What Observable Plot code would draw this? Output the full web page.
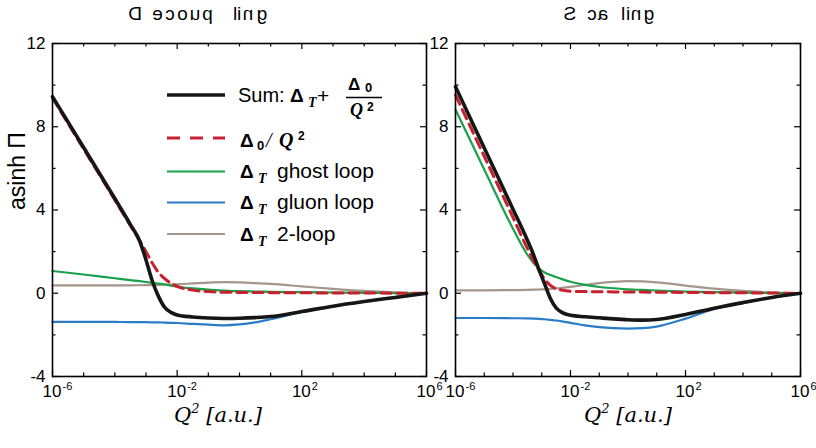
<!DOCTYPE html>
<html><head><meta charset="utf-8">
<script src="https://cdn.jsdelivr.net/npm/d3@7"></script>
<script src="https://cdn.jsdelivr.net/npm/@observablehq/plot@0.6"></script>
<style>
body{margin:0;background:#fff;}
#wrap{position:relative;width:816px;height:448px;overflow:hidden;font-family:"Liberation Sans",Arial,sans-serif;}
.panel{position:absolute;top:0;}
.xlabel{position:absolute;top:403px;font-family:"DejaVu Serif",serif;font-style:italic;font-size:21px;transform:translateX(-50%);white-space:nowrap;}
.xlabel sup{font-size:13px;vertical-align:9px;line-height:0;}
</style></head><body><div id="wrap"></div>
<script>
// ---------- data (x = log10 Q^2) ----------
const gridD = [-6,-5,-4,-3.5,-3.2,-3,-2.8,-2.6,-2.4,-2.2,-2,-1.5,-1,-0.5,0,0.5,1,2,3,4,5,6];
const sumD   = [9.45,7.0,4.55,3.3,2.5,1.6,0.6,-0.15,-0.68,-0.92,-1.04,-1.14,-1.19,-1.21,-1.2,-1.17,-1.12,-0.88,-0.62,-0.4,-0.2,0];
const redD   = [9.38,6.93,4.48,3.25,2.52,2.0,1.45,1.0,0.7,0.48,0.33,0.15,0.08,0.05,0.04,0.035,0.03,0.02,0.015,0.01,0.005,0];
const ghostD = [1.07,0.9,0.72,0.63,0.58,0.54,0.5,0.46,0.42,0.37,0.32,0.23,0.17,0.13,0.1,0.085,0.07,0.05,0.035,0.02,0.01,0];
const gluonD = [-1.38,-1.38,-1.38,-1.385,-1.39,-1.39,-1.4,-1.4,-1.41,-1.42,-1.43,-1.47,-1.51,-1.54,-1.5,-1.4,-1.25,-0.9,-0.63,-0.4,-0.19,0];
const twoD   = [0.38,0.38,0.38,0.38,0.385,0.39,0.395,0.4,0.41,0.42,0.43,0.47,0.51,0.53,0.52,0.49,0.45,0.33,0.21,0.11,0.04,0];

const gridS = [-6,-5,-4,-3.5,-3.3,-3.1,-2.9,-2.7,-2.5,-2.3,-2,-1.5,-1,-0.5,0,0.5,1,2,3,4,5,6];
const sumS   = [9.92,6.98,4.04,2.55,1.9,1.15,0.45,-0.25,-0.7,-0.92,-1.06,-1.13,-1.18,-1.23,-1.27,-1.29,-1.26,-1.02,-0.72,-0.45,-0.2,0];
const redS   = [9.52,6.58,3.64,2.15,1.6,1.12,0.68,0.38,0.22,0.15,0.1,0.08,0.07,0.065,0.06,0.055,0.05,0.04,0.03,0.02,0.01,0];
const ghostS = [8.83,5.95,3.1,1.85,1.48,1.2,1.0,0.88,0.78,0.68,0.55,0.4,0.3,0.24,0.19,0.16,0.13,0.08,0.05,0.03,0.01,0];
const gluonS = [-1.19,-1.19,-1.2,-1.21,-1.22,-1.23,-1.25,-1.28,-1.31,-1.35,-1.42,-1.54,-1.63,-1.68,-1.7,-1.68,-1.6,-1.22,-0.75,-0.46,-0.2,0];
const twoS   = [0.14,0.14,0.15,0.16,0.17,0.18,0.19,0.21,0.23,0.26,0.31,0.4,0.49,0.55,0.58,0.57,0.52,0.37,0.22,0.11,0.04,0];

const xTickExp  = [-6,-5,-4,-3,-2,-1,0,1,2,3,4,5,6];
const xLabelExp = [-6,-2,2,6];
const yTicks    = [-4,-2,0,2,4,6,8,10,12];
const yLabels   = [-4,0,4,8,12];
const titles    = ["Decoupling","Scaling"];
const yTitle    = "asinh \u03A0";
const xTitle    = "Q";

const styles = {
  two:   {color:"#a4968a", w:2.2},
  gluon: {color:"#2b7cc6", w:2.2},
  ghost: {color:"#18a04a", w:2.2},
  red:   {color:"#c8202e", w:3, dash:"10,6"},
  sum:   {color:"#161616", w:3.6}
};

const H = 448, MT = 43, MB = 72;
const wrap = document.getElementById("wrap");

function makePanel(grid, vals, left, width, mL, mR, withYLabel) {
  const fw = width - mL - mR, fh = H - MT - MB;
  const toRows = v => grid.map((e, i) => ({q2: 10 ** e, v: v[i]}));
  const lineMark = k => Plot.line(toRows(vals[k]), {x:"q2", y:"v", stroke: styles[k].color,
      strokeWidth: styles[k].w, strokeDasharray: styles[k].dash, curve:"monotone-x"});
  const maj = new Set(xLabelExp), ymaj = new Set(yLabels);
  const xMaj = xTickExp.filter(e => maj.has(e)).map(e => 10 ** e);
  const xMin = xTickExp.filter(e => !maj.has(e)).map(e => 10 ** e);
  const yMaj = yTicks.filter(v => ymaj.has(v));
  const yMin = yTicks.filter(v => !ymaj.has(v));
  const tk = {stroke:"black", strokeWidth:1.2};
  const marks = [
    Plot.tickX(xMaj, {x: d=>d, insetTop: fh-6, ...tk}),
    Plot.tickX(xMaj, {x: d=>d, insetBottom: fh-6, ...tk}),
    Plot.tickX(xMin, {x: d=>d, insetTop: fh-3.5, ...tk}),
    Plot.tickX(xMin, {x: d=>d, insetBottom: fh-3.5, ...tk}),
    Plot.tickY(yMaj, {y: d=>d, insetRight: fw-6, ...tk}),
    Plot.tickY(yMaj, {y: d=>d, insetLeft: fw-6, ...tk}),
    Plot.tickY(yMin, {y: d=>d, insetRight: fw-3.5, ...tk}),
    Plot.tickY(yMin, {y: d=>d, insetLeft: fw-3.5, ...tk}),
    lineMark("two"), lineMark("gluon"), lineMark("ghost"), lineMark("red"), lineMark("sum"),
    Plot.frame({stroke:"black", strokeWidth:1.6}),
    Plot.text(xLabelExp, {x: d=>10**d, frameAnchor:"bottom", text: ()=>"10", textAnchor:"end", dx: 9, dy: 20, fontSize: 17, fill:"#000"}),
    Plot.text(xLabelExp, {x: d=>10**d, frameAnchor:"bottom", text: d=>String(d), textAnchor:"start", dx: 10, dy: 13.5, fontSize: 11, fill:"#000"}),
    Plot.text(yLabels, {y: d=>d, frameAnchor:"left", text: d=>String(d), textAnchor:"end", dx: -7, fontSize: 17, fill:"#000"})
  ];
  if (withYLabel) marks.push(Plot.text([yTitle], {frameAnchor:"left", text: d=>d, rotate:-90, dx:-35, fontSize:23, fill:"#000"}));
  const svg = Plot.plot({
    width, height: H, marginLeft: mL, marginRight: mR, marginTop: MT, marginBottom: MB,
    x: {type:"log", domain:[1e-6, 1e6], axis:null},
    y: {domain:[-4, 12], axis:null},
    style: {fontFamily:"'Liberation Sans', Arial, sans-serif", background:"transparent", overflow:"visible"},
    marks
  });
  svg.classList.add("panel");
  svg.style.left = left + "px";
  wrap.appendChild(svg);
}

makePanel(gridD, {sum:sumD, red:redD, ghost:ghostD, gluon:gluonD, two:twoD}, 0, 430, 52, 4, true);
makePanel(gridS, {sum:sumS, red:redS, ghost:ghostS, gluon:gluonS, two:twoS}, 403, 413, 52, 16, false);

// ---------- x labels ----------
[218, 628].forEach(cx => {
  const d = document.createElement("div");
  d.className = "xlabel";
  d.style.left = cx + "px";
  d.innerHTML = xTitle + "<sup>2</sup> [a.u.]";
  wrap.appendChild(d);
});

// ---------- overlay: titles + legend ----------
const ov = d3.select(wrap).append("svg").attr("width", 816).attr("height", 448)
  .style("position","absolute").style("left","0").style("top","0")
  .style("font-family","'Liberation Sans', Arial, sans-serif");

// titles: every glyph mirrored in place, as in the reference
const titleGlyphX = [
  [135,157.5,170,182.5,195,207.5,235,239,248,262],
  [570,592,603,623,628,636,649]
];
titles.forEach((t, ti) => {
  const g = ov.append("g").attr("font-size", 19).attr("fill", "#000");
  [...t].forEach((ch, i) => {
    const cx = titleGlyphX[ti][i];
    g.append("text").attr("x", cx).attr("y", 20).attr("text-anchor", "middle")
      .attr("transform", `translate(${2*cx},0) scale(-1,1)`).text(ch);
  });
});

// legend
const rowsY = {sum:95, red:138, ghost:171.5, gluon:202.5, two:234};
Object.keys(rowsY).forEach(k => {
  ov.append("line").attr("x1",167).attr("x2",225).attr("y1",rowsY[k]).attr("y2",rowsY[k])
    .attr("stroke",styles[k].color).attr("stroke-width",styles[k].w).attr("stroke-dasharray", k==="red" ? "13,10" : null);
});
const serif = "'Liberation Serif', serif";
function delta(x, y, size) {
  ov.append("text").attr("x",x).attr("y",y).attr("font-size",size).attr("font-weight","bold").text("\u0394");
}
function sub(x, y, t, opts={}) {
  ov.append("text").attr("x",x).attr("y",y).attr("font-size",opts.size||13)
    .attr("font-family", opts.family||null).attr("font-style",opts.italic?"italic":null)
    .attr("font-weight","bold").text(t);
}
// row 1
ov.append("text").attr("x",238).attr("y",102).attr("font-size",20).text("Sum:");
delta(290, 102, 19);
sub(308, 107, "T", {family:serif, italic:true, size:14});
ov.append("text").attr("x",317).attr("y",103).attr("font-size",21).text("+");
delta(348, 90, 17);
sub(365, 92, "0", {size:13});
ov.append("line").attr("x1",346).attr("x2",382).attr("y1",97.5).attr("y2",97.5).attr("stroke","#000").attr("stroke-width",1.4);
sub(350, 116, "Q", {family:serif, italic:true, size:18});
sub(367, 111, "2", {size:12});
// row 2
delta(240, 147, 19);
sub(257, 150, "0", {size:13});
ov.append("text").attr("x",266).attr("y",147).attr("font-size",20).attr("font-family",serif).attr("font-style","italic").text("/");
sub(279, 147, "Q", {family:serif, italic:true, size:20});
sub(298, 140, "2", {size:12});
// rows 3-5
[["ghost","ghost loop",178],["gluon","gluon loop",209],["two","2-loop",240.5]].forEach(([k,t,y]) => {
  delta(240, y, 19);
  sub(258, y+5, "T", {family:serif, italic:true, size:14});
  ov.append("text").attr("x",277).attr("y",y).attr("font-size",21).text(t);
});
</script>
</body></html>
